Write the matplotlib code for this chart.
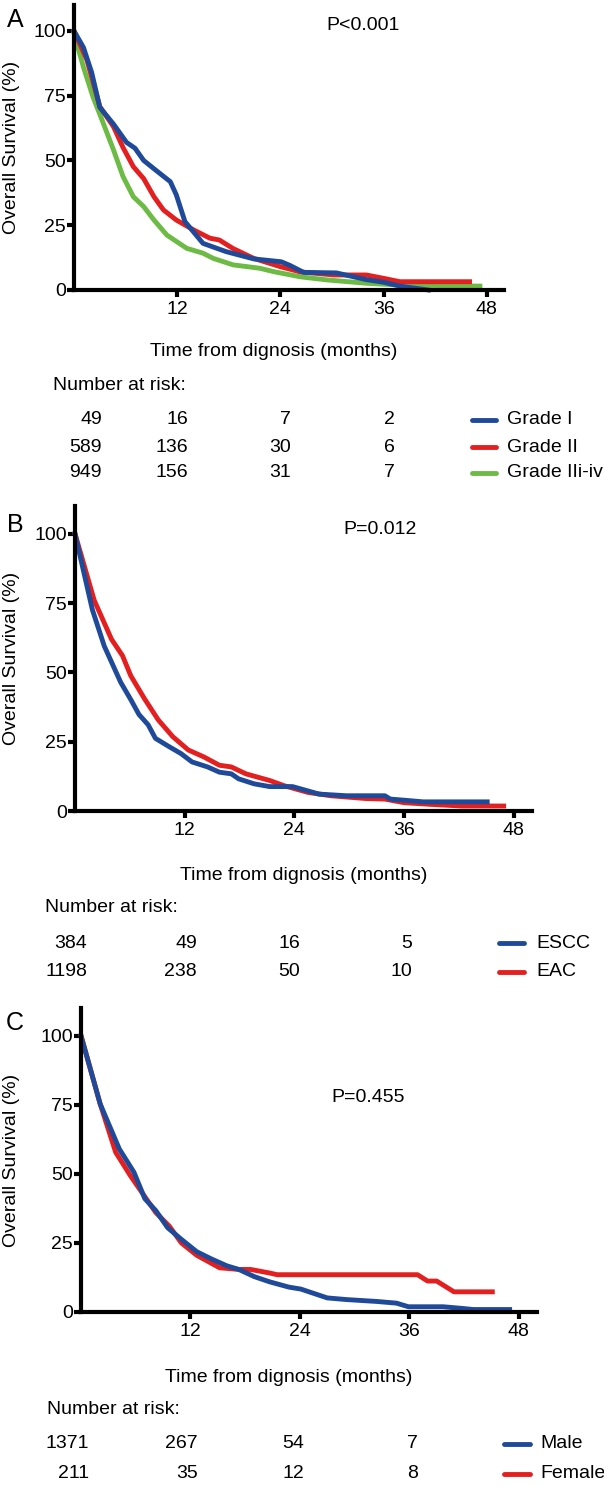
import matplotlib
matplotlib.use('Agg')
import matplotlib.pyplot as plt
from matplotlib.lines import Line2D

plt.rcParams['font.family'] = ['Liberation Sans', 'DejaVu Sans']

W, H = 604, 1486
FS = 14

BLUE = '#1f4a9a'
RED = '#e3201f'
GREEN = '#6cbb45'

# ---- panel A: tumour grade ----
a_t_grade1 = [0, 1.1, 2.05, 3.0, 4.6, 6.1, 7.1, 8.1, 9.6, 11.2, 11.9, 12.9, 15.0, 17.7, 20.9,
              24.1, 25.1, 26.7, 30.5, 34.0, 36.0, 37.9, 41.2]
a_s_grade1 = [100, 93.6, 84, 70.5, 64, 57, 54.7, 50, 46, 41.8, 36.7, 26.4, 18, 14.8, 12.0,
              10.9, 9.5, 6.8, 6.6, 4.0, 3.0, 1.5, 0]
a_t_grade2 = [0, 1.5, 3.0, 4.6, 5.7, 6.9, 8.1, 9.3, 10.4, 11.9, 13.9, 15.8, 16.9, 18.5, 20.9,
              24.0, 26.3, 30.2, 34.0, 36.0, 37.9, 46.0]
a_s_grade2 = [100, 88.8, 70.8, 63, 55, 47.6, 43, 36, 30.9, 27, 23.2, 20, 19.3, 16, 12.2,
              9, 7, 5.8, 5.8, 4.5, 3.2, 3.2]
a_t_grade3 = [0, 1.1, 2.2, 3.4, 4.6, 5.7, 6.9, 8.1, 9.3, 10.8, 13.1, 15.0, 16.2, 18.5, 21.6,
              23.2, 26.3, 29.4, 34.0, 37.9, 47.2]
a_s_grade3 = [99, 86, 74.6, 64.4, 54, 43.8, 36, 32.2, 27, 21.2, 16.1, 14.2, 12.2, 9.7, 8.4,
              7.1, 5.1, 3.9, 2.6, 1.9, 1.5]
a_risk_grade1 = ['49', '16', '7', '2']
a_risk_grade2 = ['589', '136', '30', '6']
a_risk_grade3 = ['949', '156', '31', '7']
a_groups = ['Grade I', 'Grade II', 'Grade IIi-iv']

# ---- panel B: histology ----
b_t_escc = [0, 1.9, 3.2, 5.0, 6.1, 7.0, 8.0, 8.8, 10.3, 11.6, 12.8, 14.5, 15.8, 17.1, 17.9,
            19.6, 21.3, 23.8, 25.1, 26.7, 29.7, 33.9, 34.5, 36.0, 38.1, 45.1]
b_s_escc = [100, 72.6, 59.5, 46.4, 40.2, 34.8, 31.1, 26.2, 23.2, 20.7, 17.7, 15.9, 14, 13.4, 11.6,
            9.8, 8.8, 8.8, 7.6, 6.1, 5.5, 5.5, 4.3, 3.9, 3.3, 3.3]
b_t_eac = [0, 2.1, 4.0, 5.2, 6.1, 7.6, 9.1, 10.7, 12.4, 14.1, 15.8, 17.1, 18.7, 21.3, 22.9,
           25.5, 28.0, 31.8, 33.9, 36.0, 38.9, 42.3, 46.9]
b_s_eac = [100, 76, 61.9, 56, 48.8, 40.5, 32.9, 26.8, 22, 19.5, 16.5, 15.9, 13.4, 11, 9.1,
           6.7, 5.5, 4.5, 4.3, 3, 2.4, 1.8, 1.8]
b_risk_escc = ['384', '49', '16', '5']
b_risk_eac = ['1198', '238', '50', '10']
b_groups = ['ESCC', 'EAC']

# ---- panel C: sex ----
c_t_male = [0, 2.1, 4.2, 5.8, 7.0, 8.2, 9.5, 11.0, 12.7, 14.3, 16.0, 17.3, 19.0, 20.7, 22.8,
            24.1, 27.0, 29.1, 32.5, 34.6, 35.9, 39.7, 41.8, 43.0, 47.0]
c_s_male = [100, 75.3, 59, 50.6, 41, 36.7, 30.5, 26.3, 21.8, 19.2, 16.7, 15.4, 12.8, 10.9, 9,
            8.3, 5.1, 4.5, 3.8, 3.2, 1.9, 1.9, 1.3, 0.9, 0.9]
c_t_female = [0, 2.1, 3.8, 5.4, 7.4, 8.2, 9.7, 11.0, 12.7, 15.2, 17.3, 18.6, 20.7, 21.5, 36.9,
              38.0, 39.0, 40.9, 45.1]
c_s_female = [100, 75.3, 57.8, 49.4, 39.8, 36, 31, 25, 20.5, 16, 15.4, 15.4, 14.1, 13.5, 13.5,
              11.2, 11.2, 7.3, 7.3]
c_risk_male = ['1371', '267', '54', '7']
c_risk_female = ['211', '35', '12', '8']
c_groups = ['Male', 'Female']

x_ticks = [12, 24, 36, 48]
y_ticks = [0, 25, 50, 75, 100]


def fx(x):
    return x / W


def fy(y):
    return 1 - y / H


def ftext(fig, x, y, s, **kw):
    kw.setdefault('fontsize', FS)
    fig.text(fx(x), fy(y), s, **kw)


def draw_panel(fig, p):
    left, right, top, bottom = p['box']
    ax = fig.add_axes([fx(left), fy(bottom), (right - left) / W, (bottom - top) / H])
    ax.set_xlim(0, 50)
    ax.set_ylim(0, 110)
    ax.set_xticks(x_ticks)
    ax.set_yticks(y_ticks)
    for side in ['top', 'right']:
        ax.spines[side].set_visible(False)
    for side in ['left', 'bottom']:
        ax.spines[side].set_linewidth(3)
    ax.tick_params(axis='both', length=5, width=3, labelsize=FS)
    ax.tick_params(axis='y', pad=1)
    ax.tick_params(axis='x', pad=3)

    # draw bottom-most curve first
    for (t, s), c in list(zip(p['curves'], p['colors']))[::-1]:
        ax.plot(t, s, color=c, lw=3.5, solid_joinstyle='round', clip_on=False)

    ftext(fig, 15, p['letter_y'], p['letter'], fontsize=18, ha='center', va='center')
    ftext(fig, p['p_xy'][0], p['p_xy'][1], p['pval'], ha='center', va='center')
    ftext(fig, 12, (top + bottom) / 2, 'Overall Survival (%)', rotation=90, ha='center', va='center')
    ftext(fig, p['xlab_xy'][0], p['xlab_xy'][1], 'Time from dignosis (months)', ha='center', va='center')
    ftext(fig, p['nar_xy'][0], p['nar_xy'][1], 'Number at risk:', ha='left', va='center')

    lx0, lx1, tx = p['legend_x']
    for row, y, lab, c in zip(p['risk'], p['row_y'], p['groups'], p['colors']):
        for val, x in zip(row, p['cols']):
            ftext(fig, x, y, val, ha='right', va='center')
        fig.add_artist(Line2D([fx(lx0), fx(lx1)], [fy(y), fy(y)], color=c, lw=3.5,
                              solid_capstyle='round', transform=fig.transFigure))
        ftext(fig, tx, y, lab, ha='left', va='center')
    return ax


fig = plt.figure(figsize=(W / 100, H / 100), dpi=100)

panels = [
    dict(box=(74, 504, 5, 290), letter='A', letter_y=20, pval='P<0.001', p_xy=(363, 25),
         curves=[(a_t_grade1, a_s_grade1), (a_t_grade2, a_s_grade2), (a_t_grade3, a_s_grade3)],
         colors=[BLUE, RED, GREEN], risk=[a_risk_grade1, a_risk_grade2, a_risk_grade3],
         groups=a_groups, cols=[102, 188, 291, 395], row_y=[420, 447, 473],
         nar_xy=(53, 385), xlab_xy=(274, 352), legend_x=(472, 496, 507)),
    dict(box=(75, 532, 506, 811), letter='B', letter_y=525, pval='P=0.012', p_xy=(380, 530),
         curves=[(b_t_escc, b_s_escc), (b_t_eac, b_s_eac)],
         colors=[BLUE, RED], risk=[b_risk_escc, b_risk_eac],
         groups=b_groups, cols=[87, 197, 300, 412], row_y=[943, 972],
         nar_xy=(45, 908), xlab_xy=(304, 875), legend_x=(499, 524, 536)),
    dict(box=(81, 537, 1008, 1312), letter='C', letter_y=1023, pval='P=0.455', p_xy=(368, 1098),
         curves=[(c_t_male, c_s_male), (c_t_female, c_s_female)],
         colors=[BLUE, RED], risk=[c_risk_male, c_risk_female],
         groups=c_groups, cols=[89, 198, 304, 418], row_y=[1444, 1474],
         nar_xy=(47, 1409), xlab_xy=(289, 1378), legend_x=(504, 530, 540)),
]

for p in panels:
    draw_panel(fig, p)

fig.savefig('out.png', dpi=100)
